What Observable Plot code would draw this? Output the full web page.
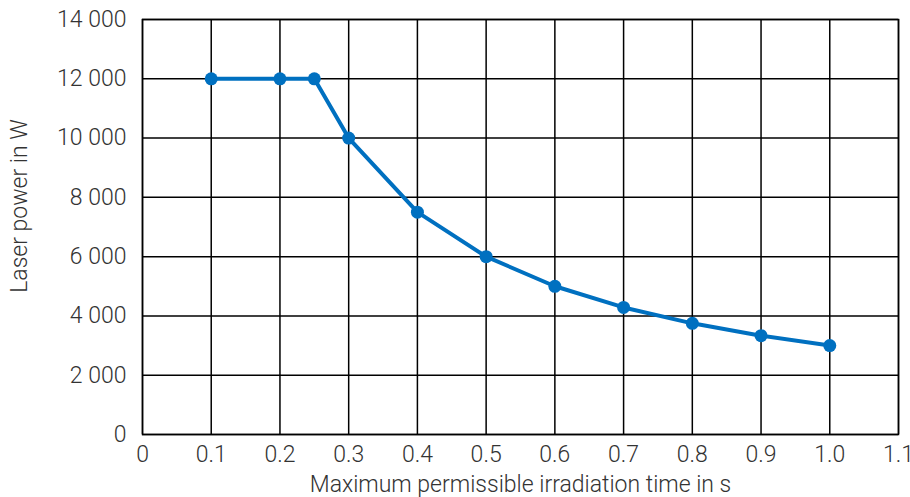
<!DOCTYPE html>
<html><head><meta charset="utf-8">
<script src="https://cdn.jsdelivr.net/npm/d3@7"></script>
<script src="https://cdn.jsdelivr.net/npm/@observablehq/plot@0.6"></script>
<style>
body{margin:0;background:#fff;}
svg{font-family:Roboto, "Liberation Sans", sans-serif;font-weight:300;}
</style>
</head><body><div id="chart"></div>
<script>
const times = [0.1, 0.2, 0.25, 0.3, 0.4, 0.5, 0.6, 0.7, 0.8, 0.9, 1.0];
const powers = [12000, 12000, 12000, 10000, 7500, 6000, 5000, 4286, 3750, 3333, 3000];
const xTicks = [0, 0.1, 0.2, 0.3, 0.4, 0.5, 0.6, 0.7, 0.8, 0.9, 1.0, 1.1];
const xTickLabels = ["0", "0.1", "0.2", "0.3", "0.4", "0.5", "0.6", "0.7", "0.8", "0.9", "1.0", "1.1"];
const yTicks = [0, 2000, 4000, 6000, 8000, 10000, 12000, 14000];
const yTickLabels = ["0", "2 000", "4 000", "6 000", "8 000", "10 000", "12 000", "14 000"];
const xTitle = "Maximum permissible irradiation time in s";
const yTitle = "Laser power in W";

const data = times.map((t, i) => ({t, p: powers[i]}));

const chart = Plot.plot({
  width: 910,
  height: 497,
  marginLeft: 142,
  marginRight: 12,
  marginTop: 19,
  marginBottom: 63,
  style: {fontSize: "23px", color: "#333", background: "#fff"},
  x: {domain: [0, 1.1], ticks: xTicks, tickFormat: d => xTickLabels[xTicks.indexOf(d)], tickSize: 0, tickPadding: 11,
      label: xTitle, labelAnchor: "center", labelArrow: "none", labelOffset: 57},
  y: {domain: [0, 14000], ticks: yTicks, tickFormat: d => yTickLabels[yTicks.indexOf(d)], tickSize: 0, tickPadding: 16,
      label: null},
  marks: [
    Plot.gridX(xTicks, {stroke: "#000", strokeOpacity: 1, strokeWidth: 1.5}),
    Plot.gridY(yTicks, {stroke: "#000", strokeOpacity: 1, strokeWidth: 1.5}),
    Plot.frame({stroke: "#000", strokeWidth: 1.5}),
    Plot.line(data, {x: "t", y: "p", stroke: "#0070c0", strokeWidth: 4}),
    Plot.dot(data, {x: "t", y: "p", fill: "#0070c0", r: 6.5}),
    Plot.text([yTitle], {frameAnchor: "left", text: d => d, rotate: -90, dx: -122.5, dy: -21,
      lineAnchor: "middle", textAnchor: "middle", fontSize: 23, fill: "#333"})
  ]
});
document.getElementById("chart").appendChild(chart);
</script>
</body></html>
